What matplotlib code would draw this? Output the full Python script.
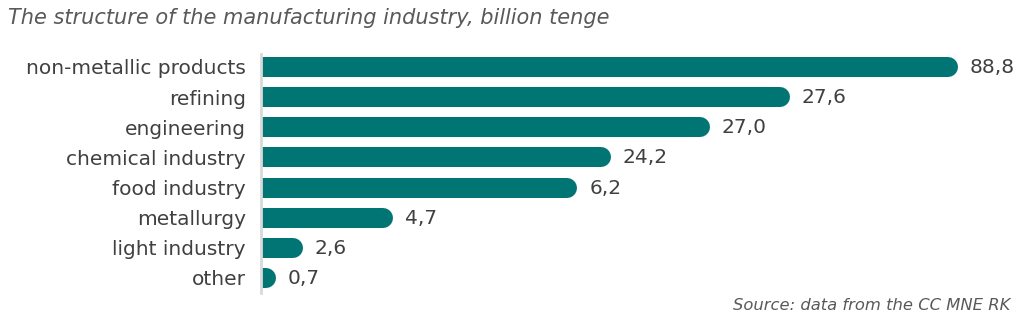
import matplotlib
matplotlib.use("Agg")
import matplotlib.pyplot as plt

# Data
categories = ["non-metallic products", "refining", "engineering", "chemical industry",
              "food industry", "metallurgy", "light industry", "other"]
# bar lengths as drawn (relative scale, top bar = 88.8)
bar_lengths = [88.8, 67.4, 57.2, 44.6, 40.3, 16.8, 5.35, 1.9]
# data labels as printed
value_labels = ["88,8", "27,6", "27,0", "24,2", "6,2", "4,7", "2,6", "0,7"]

title = "The structure of the manufacturing industry, billion tenge"
source = "Source: data from the CC MNE RK"

BAR_COLOR = "#007574"
TEXT_COLOR = "#404040"
TITLE_COLOR = "#595959"

W, H, DPI = 1021, 325, 100
fig = plt.figure(figsize=(W / DPI, H / DPI), dpi=DPI)
plt.rcParams['font.family'] = ['DejaVu Sans']

ax_left_px, ax_right_px = 261, 1000
ax_top_px, ax_bot_px = 54, 293
ax = fig.add_axes([ax_left_px / W, 1 - ax_bot_px / H,
                   (ax_right_px - ax_left_px) / W, (ax_bot_px - ax_top_px) / H])

xmax = 94.2
ax.set_xlim(0, xmax)
ax.set_ylim(7.5, -0.43)

px_per_unit = (ax_right_px - ax_left_px) / xmax
bar_h_px = 20
r_data = (bar_h_px / 2) / px_per_unit
lw_pt = bar_h_px * 72 / DPI

ypos = list(range(len(categories)))
for y, v, lab in zip(ypos, bar_lengths, value_labels):
    ax.plot([0, max(v - r_data, 0)], [y, y], color=BAR_COLOR, lw=lw_pt,
            solid_capstyle='round', clip_on=True, zorder=2)
    ax.text(v + 12 / px_per_unit, y + 0.02, lab, va='center', ha='left',
            fontsize=14.5, color=TEXT_COLOR)

ax.set_yticks(ypos)
ax.set_yticklabels(categories, fontsize=14.5, color=TEXT_COLOR)
ax.tick_params(axis='y', length=0, pad=11)
ax.set_xticks([])
for s in ['top', 'right', 'bottom']:
    ax.spines[s].set_visible(False)
ax.spines['left'].set_color('#d9d9d9')
ax.spines['left'].set_linewidth(2)
ax.spines['left'].set_zorder(3)

fig.text(8 / W, 1 - 18 / H, title, fontsize=15, style='italic',
         color=TITLE_COLOR, ha='left', va='center')
fig.text(1010 / W, 1 - 306 / H, source, fontsize=11.8, style='italic',
         color=TITLE_COLOR, ha='right', va='center')

fig.savefig("out.png", dpi=DPI)
